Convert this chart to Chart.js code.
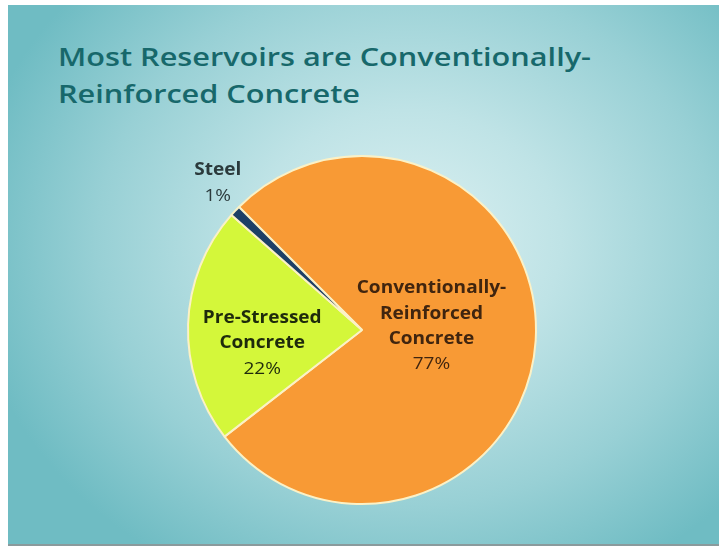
<!DOCTYPE html>
<html>
<head>
<meta charset="utf-8">
<script src="https://cdn.jsdelivr.net/npm/chart.js@4.4.1/dist/chart.umd.min.js"></script>
<style>
  html, body { margin: 0; padding: 0; background: #ffffff; }
  #page { position: relative; width: 719px; height: 546px; overflow: hidden; background: #fff; }
  #slide {
    position: absolute; left: 8px; top: 5px; width: 711px; height: 539px;
    border-bottom: 2px solid #8a9a9c;
    background: radial-gradient(ellipse 62% 70% at 56% 44%, #dcf1f2 0%, #bfe3e6 35%, #98d0d5 70%, #6fbcc3 100%);
  }
  #title {
    position: absolute; left: 50px; top: 33px; margin: 0; white-space: nowrap;
    font-family: "Open Sans", sans-serif; font-weight: 600; font-size: 26px;
    line-height: 37px; color: #17686b;
    transform: scaleX(1.18); transform-origin: 0 0;
  }
  #chartWrap { position: absolute; left: 0; top: 0; width: 711px; height: 539px; }
</style>
</head>
<body>
<div id="page">
  <div id="slide">
    <h1 id="title">Most Reservoirs are Conventionally-<br>Reinforced Concrete</h1>
    <div id="chartWrap"><canvas id="pieChart"></canvas></div>
  </div>
</div>
<script>
const categories = ['Conventionally-Reinforced Concrete', 'Pre-Stressed Concrete', 'Steel'];
const labelLines = [['Conventionally-', 'Reinforced', 'Concrete'], ['Pre-Stressed', 'Concrete'], ['Steel']];
const shares = [77, 22, 1];
const sliceColors = ['#f89a35', '#d4f73a', '#1d3f66'];
const textColors = ['#40250f', '#1e2a0c', '#2b3a3c'];

// where each label sits: fraction of the radius along the slice's middle angle, plus a nudge
const labelRadius = [0.4, 0.66, 1.2];
const labelNudge = [[0, -8], [15, 17], [8, -4]];

const sliceLabels = {
  id: 'sliceLabels',
  afterDatasetsDraw(chart) {
    const ctx = chart.ctx;
    const meta = chart.getDatasetMeta(0);
    meta.data.forEach((arc, i) => {
      const p = arc.getProps(['x', 'y', 'startAngle', 'endAngle', 'outerRadius'], true);
      const mid = (p.startAngle + p.endAngle) / 2;
      const r = p.outerRadius * labelRadius[i];
      const cx = p.x + Math.cos(mid) * r + labelNudge[i][0];
      const cy = p.y + Math.sin(mid) * r + labelNudge[i][1];
      const lines = labelLines[i].concat([shares[i] + '%']);
      const lh = 25.3;
      const top = cy - (lines.length - 1) * lh / 2;
      ctx.save();
      ctx.textAlign = 'center';
      ctx.textBaseline = 'middle';
      ctx.fillStyle = textColors[i];
      lines.forEach((t, k) => {
        const isPct = k === lines.length - 1;
        ctx.font = (isPct ? '400 ' : '700 ') + '17px "Open Sans", sans-serif';
        ctx.save();
        ctx.translate(cx, top + k * lh);
        ctx.scale(1.12, 1);
        ctx.fillText(t, 0, 0);
        ctx.restore();
      });
      ctx.restore();
    });
  }
};

const ctx = document.getElementById('pieChart').getContext('2d');
const pieChart = new Chart(ctx, {
  type: 'pie',
  data: {
    labels: categories,
    datasets: [{
      data: shares,
      backgroundColor: sliceColors,
      borderColor: '#fbf1c6',
      borderWidth: 2
    }]
  },
  options: {
    responsive: true,
    maintainAspectRatio: false,
    animation: false,
    rotation: -45,
    layout: { padding: { left: 179, right: 182, top: 150, bottom: 39 } },
    plugins: {
      legend: { display: false },
      tooltip: { enabled: false },
      title: { display: false }
    }
  },
  plugins: [sliceLabels]
});
</script>
</body>
</html>
